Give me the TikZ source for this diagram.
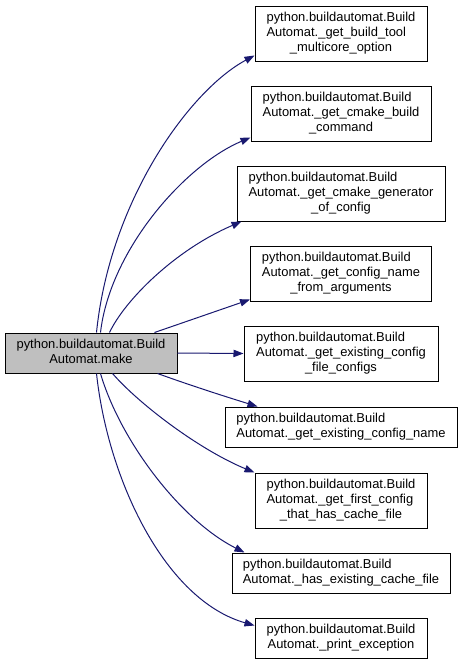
\documentclass[tikz,border=0pt]{standalone}
\usepackage{fontspec}
\setmainfont{Liberation Sans}
\usetikzlibrary{arrows.meta,calc}
\definecolor{edgeblue}{HTML}{191970}
\definecolor{maingray}{HTML}{BFBFBF}
\newcommand\twol[2]{\begin{tabular}{@{}l@{}}#1\\\multicolumn{1}{@{}c@{}}{#2}\end{tabular}}
\newcommand\threel[3]{\begin{tabular}{@{}l@{}}#1\\#2\\\multicolumn{1}{@{}c@{}}{#3}\end{tabular}}
\begin{document}
\begin{tikzpicture}[x=0.75pt,y=-0.75pt,
  fn/.style={draw=black, line width=0.75pt, fill=white, inner sep=0pt,
    font=\fontsize{9.7}{11.2}\selectfont},
  tall/.style={minimum height=41.25pt},
  short/.style={minimum height=30pt},
  callarrow/.style={draw=edgeblue, line width=0.75pt,
    -{Triangle[length=7.5pt,width=5.5pt]}}]
\fill[white] (0,0) rectangle (463,665);
\useasboundingbox (0,0) rectangle (463,665);

\node[fn, short, fill=maingray, minimum width=129pt] (m) at (91,353)
  {\twol{python.buildautomat.Build}{Automat.make}};

\node[fn, tall, minimum width=129pt] (f1) at (341,33.5)
  {\threel{python.buildautomat.Build}{Automat.\_get\_build\_tool}{\_multicore\_option}};
\node[fn, tall, minimum width=135pt] (f2) at (341,113.5)
  {\threel{python.buildautomat.Build}{Automat.\_get\_cmake\_build}{\_command}};
\node[fn, tall, minimum width=156pt] (f3) at (341,193.5)
  {\threel{python.buildautomat.Build}{Automat.\_get\_cmake\_generator}{\_of\_config}};
\node[fn, tall, minimum width=135.75pt] (f4) at (341,273.5)
  {\threel{python.buildautomat.Build}{Automat.\_get\_config\_name}{\_from\_arguments}};
\node[fn, tall, minimum width=145.5pt] (f5) at (341,353.5)
  {\threel{python.buildautomat.Build}{Automat.\_get\_existing\_config}{\_file\_configs}};
\node[fn, short, minimum width=174pt] (f6) at (341,427)
  {\twol{python.buildautomat.Build}{Automat.\_get\_existing\_config\_name}};
\node[fn, tall, minimum width=129pt] (f7) at (341,500.5)
  {\threel{python.buildautomat.Build}{Automat.\_get\_first\_config}{\_that\_has\_cache\_file}};
\node[fn, short, minimum width=163.5pt] (f8) at (341,573)
  {\twol{python.buildautomat.Build}{Automat.\_has\_existing\_cache\_file}};
\node[fn, short, minimum width=129pt] (f9) at (341,638)
  {\twol{python.buildautomat.Build}{Automat.\_print\_exception}};

\draw[callarrow] ($(m.north west)+(92,0)$) .. controls (110,200) and (190,90) .. ($(f1.south west)+(0,-6)$);
\draw[callarrow] ($(m.north west)+(96,0)$) .. controls (110,250) and (185,165) .. ($(f2.south west)+(0,-4)$);
\draw[callarrow] ($(m.north west)+(105,0)$) .. controls (125,300) and (175,250) .. ($(f3.south west)+(5,0)$);
\draw[callarrow] ($(m.north west)+(150,0)$) -- ($(f4.south west)+(0,-2)$);
\draw[callarrow] (m.east) -- (f5.west);
\draw[callarrow] ($(m.south west)+(153,0)$) .. controls (195,387) and (230,398) .. ($(f6.north west)+(33,0)$);
\draw[callarrow] ($(m.south west)+(108,0)$) .. controls (140,405) and (200,450) .. (f7.north west);
\draw[callarrow] ($(m.south west)+(96,0)$) .. controls (120,440) and (180,520) .. ($(f8.north west)+(13,0)$);
\draw[callarrow] ($(m.south west)+(92,0)$) .. controls (108,480) and (165,600) .. ($(f9.north west)+(0,8)$);
\end{tikzpicture}
\end{document}
